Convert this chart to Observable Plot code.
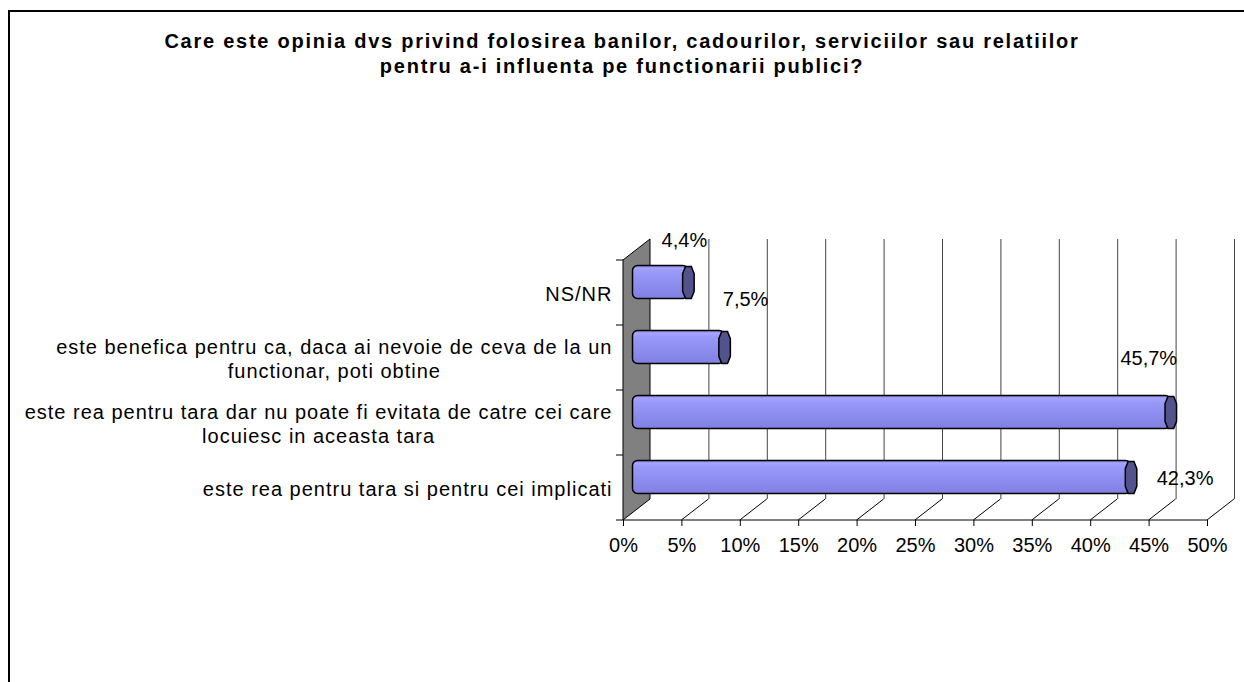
<!DOCTYPE html>
<html><head><meta charset="utf-8">
<script src="https://cdn.jsdelivr.net/npm/d3@7"></script>
<script src="https://cdn.jsdelivr.net/npm/@observablehq/plot@0.6"></script>
<style>
html,body{margin:0;padding:0;background:#fff;overflow:hidden;width:1244px;height:682px;font-family:"Liberation Sans",Arial,sans-serif;}
#frame{position:absolute;left:8px;top:10px;width:1300px;height:700px;border-left:2px solid #000;border-top:2px solid #000;}
#title{position:absolute;left:0;width:1244px;top:29px;text-align:center;font-weight:bold;font-size:20px;letter-spacing:1.75px;line-height:25px;color:#000;}
#chart{position:absolute;left:0;top:100px;}
</style></head><body>
<div id="frame"></div>
<div id="title">Care este opinia dvs privind folosirea banilor, cadourilor, serviciilor sau relatiilor<br>pentru a-i influenta pe functionarii publici?</div>
<div id="chart"></div>
<script>
// ---- data ----
const categories = ["NS/NR", "benefica", "rea_dar", "rea_si"];
const categoryLabels = [
  "NS/NR",
  "este benefica pentru ca, daca ai nevoie de ceva de la un\nfunctionar, poti obtine",
  "este rea pentru tara dar nu poate fi evitata de catre cei care\nlocuiesc in aceasta tara",
  "este rea pentru tara si pentru cei implicati"
];
const values = [4.4, 7.5, 45.7, 42.3];
const xTicks = [0, 5, 10, 15, 20, 25, 30, 35, 40, 45, 50];

const data = categories.map((c, i) => ({cat: c, label: categoryLabels[i], value: values[i]}));
const fmt = v => v.toFixed(1).replace(".", ",") + "%";

// 3D depth (pixels) and label placement offsets (styling)
const DX = 27, DY = 21;
const labelOffsets = [[-4, -42], [21, -48], [-22, -54], [54, 1]];

const capSymbol = {
  draw(context, size) {
    const h = Math.sqrt(size / Math.PI), w = h * 0.36, c = h * 0.45;
    context.moveTo(-w * 0.5, -h);
    context.lineTo(w * 0.5, -h);
    context.lineTo(w, -h + c);
    context.lineTo(w, h - c);
    context.lineTo(w * 0.5, h);
    context.lineTo(-w * 0.5, h);
    context.lineTo(-w, h - c);
    context.lineTo(-w, -h + c);
    context.closePath();
  }
};

function decor(index, scales, vals, dim) {
  const x = scales.x, y = scales.y;
  const top = dim.marginTop, bottom = dim.height - dim.marginBottom;
  const g = d3.create("svg:g");
  const grad = g.append("defs").append("linearGradient")
    .attr("id", "barGrad").attr("x1", 0).attr("y1", 0).attr("x2", 0).attr("y2", 1);
  [["0%", "#7c7ce0"], ["8%", "#a6a6ff"], ["18%", "#9a9afa"], ["55%", "#8e8ef0"], ["100%", "#8080e2"]]
    .forEach(([o, c]) => grad.append("stop").attr("offset", o).attr("stop-color", c));
  const x0 = x(xTicks[0]);
  // left wall
  g.append("path")
    .attr("d", `M${x0},${top}L${x0 + DX},${top - DY}L${x0 + DX},${bottom - DY}L${x0},${bottom}Z`)
    .attr("fill", "#808080").attr("stroke", "#000").attr("stroke-width", 1);
  // floor diagonals
  xTicks.slice(1).forEach(t => {
    g.append("line").attr("x1", x(t)).attr("y1", bottom).attr("x2", x(t) + DX).attr("y2", bottom - DY)
      .attr("stroke", "#000").attr("stroke-width", 1);
  });
  // wall ticks at band boundaries
  const step = y.step ? y.step() : (y.bandwidth() * 2);
  const gap = (step - y.bandwidth()) / 2;
  const bounds = categories.map(c => y(c) - gap).concat([bottom]);
  bounds.forEach(b => {
    g.append("line").attr("x1", x0 - 7).attr("x2", x0).attr("y1", b).attr("y2", b)
      .attr("stroke", "#000").attr("stroke-width", 1);
  });
  // front axis line
  g.append("line").attr("x1", x0).attr("x2", x(xTicks[xTicks.length - 1]))
    .attr("y1", bottom).attr("y2", bottom).attr("stroke", "#000").attr("stroke-width", 1);
  return g.node();
}

const plot = Plot.plot({
  width: 1244,
  height: 480,
  marginLeft: 623,
  marginRight: 37,
  marginTop: 160,
  marginBottom: 60,
  style: {fontFamily: "'Liberation Sans', Arial, sans-serif", fontSize: "20px", background: "transparent", color: "#000"},
  x: {domain: [0, 50]},
  y: {domain: categories, paddingInner: 0.5, paddingOuter: 0.25, axis: null},
  marks: [
    decor,
    Plot.ruleX(xTicks.slice(1), {dx: DX, dy: -DY, stroke: "#444", strokeWidth: 1}),
    Plot.axisX({ticks: xTicks, tickFormat: d => d + "%", tickSize: 6, tickPadding: 11, fontSize: 20, stroke: "#000", label: null}),
    Plot.barX(data, {x: "value", y: "cat", dx: DX / 2, dy: -DY / 2, insetLeft: -4, rx: 5, fill: "url(#barGrad)", stroke: "#000", strokeWidth: 1.5}),
    Plot.dot(data, {x: "value", y: "cat", dx: DX / 2, dy: -DY / 2, r: 16, symbol: capSymbol, fill: "#52528c", stroke: "#000", strokeWidth: 1.5}),
    ...data.map((d, i) => Plot.text([d], {
      x: "value", y: "cat", text: d => fmt(d.value),
      dx: DX / 2 + labelOffsets[i][0], dy: -DY / 2 + labelOffsets[i][1],
      fontSize: 20, fill: "#000"
    })),
    Plot.text(data, {y: "cat", text: "label", frameAnchor: "left", textAnchor: "end", dx: -11,
      fontSize: 20, lineHeight: 1.2, fill: "#000"})
  ]
});
document.getElementById("chart").appendChild(plot);

// label text in the reference is slightly wider-set; multi-line labels are centred within their block
const flatLabels = categoryLabels.map(l => l.replace("\n", ""));
plot.querySelectorAll("text").forEach(t => {
  if (!flatLabels.includes(t.textContent)) return;
  t.style.letterSpacing = "1px";
  const spans = t.querySelectorAll("tspan");
  if (spans.length < 2) return;
  let w = 0;
  spans.forEach(s => { w = Math.max(w, s.getComputedTextLength()); });
  t.setAttribute("text-anchor", "middle");
  spans.forEach(s => s.setAttribute("x", -w / 2));
});
</script>
</body></html>
